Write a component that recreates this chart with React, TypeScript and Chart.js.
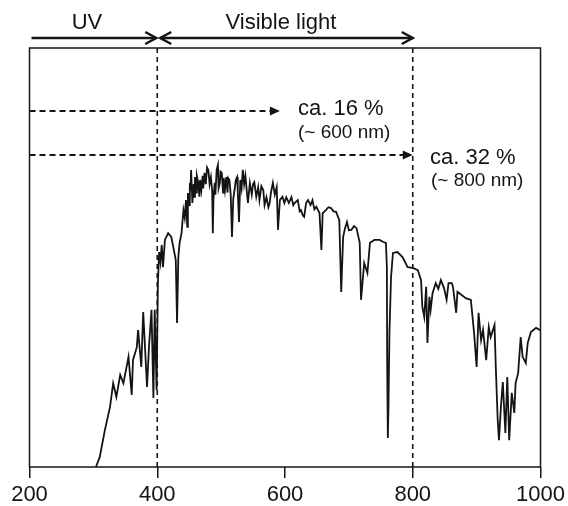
import React, { useEffect, useRef } from "react";
import { Chart, registerables } from "chart.js";

Chart.register(...registerables);

// Wavelength (nm) and relative irradiance (top of frame = 100)
const wavelengths = [
  304, 310, 318, 326, 329, 331, 336, 342, 347, 352, 355, 360, 362, 368, 370, 375, 378, 384, 387, 391,
  394, 396, 399, 401, 403, 405, 407, 409, 412, 417, 422, 426, 429, 431, 433, 435, 438,
  441, 443, 445, 447, 448, 450, 451, 452, 453, 455, 457, 458, 459, 461, 462, 464, 466, 467, 469, 471, 472, 474,
  476, 478, 480, 482, 484, 486, 487, 488, 490, 491, 493, 495, 496, 498, 499, 501, 503, 504, 506, 508, 510, 511,
  513, 515, 517, 519, 521, 523, 525, 526, 528, 530, 532, 534, 536, 538, 540, 542, 545, 548, 550, 552, 555, 558,
  560, 563, 566, 568, 571, 574, 576, 578, 581, 584, 587, 589, 592, 596, 599,
  602, 606, 610, 613, 615, 620, 623, 625, 628, 630, 633, 636, 640, 643, 646, 649, 654, 657, 659, 664, 668, 672,
  676, 680, 685, 688, 691, 694, 697, 700, 704, 708, 712, 717,
  719, 724, 729, 733, 740, 748, 754, 758, 759.5, 760, 761, 762, 763.5, 766, 769, 776, 784, 792, 800, 808,
  813, 815, 818, 821, 823, 826, 828, 831, 836, 840, 844, 849, 853, 856, 861, 863, 868, 870, 876, 883, 891,
  896, 900, 903, 907, 910, 915, 919, 922, 928, 930, 933, 935, 938, 941, 945, 948, 951, 955, 959, 961,
  965, 969, 972, 977, 980, 985, 993, 999, 1000,
];
const irradiance = [
  0, 2.4, 8.8, 14.3, 17.7, 20.0, 16.7, 22.0, 20.0, 23.9, 26.3, 17.2, 25.5, 28.6, 32.7, 23.9, 37.0, 19.1, 28.6, 37.5,
  16.5, 37.5, 18.4, 43.9, 51.3, 48.9, 53.0, 47.7, 54.2, 55.8, 54.9, 51.8, 49.4, 34.4, 50.1, 53.5, 55.8,
  61.3, 59.5, 63.7, 57.3, 65.4, 62.5, 67.8, 66.0, 70.9, 63.0, 67.5, 64.5, 69.2, 65.5, 69.5, 68.0, 64.5, 68.5, 66.1, 69.5, 66.5, 70.2,
  67.5, 71.5, 70.9, 67.5, 69.2, 66.0, 55.8, 64.0, 67.8, 65.0, 70.9, 72.1, 66.5, 67.8, 70.5, 70.2, 65.5, 69.0, 66.1, 69.2, 65.5, 69.0,
  68.5, 65.0, 54.9, 64.0, 66.1, 68.5, 69.2, 66.0, 58.5, 68.5, 66.5, 70.9, 67.5, 69.5, 66.1, 63.0, 67.8, 65.0, 67.5, 68.0, 64.5, 66.8,
  63.7, 67.0, 66.1, 62.5, 64.4, 62.0, 63.0, 65.5, 67.8, 65.0, 66.8, 56.6, 63.7, 64.5, 63.0,
  64.4, 63.0, 64.4, 62.5, 63.0, 63.7, 61.0, 61.3, 60.0, 59.7, 63.0, 63.7, 62.5, 63.7, 61.5, 62.1, 60.6, 51.8, 60.6, 61.3, 62.0, 61.8,
  61.0, 60.9, 58.9, 41.8, 54.9, 57.0, 58.5, 56.5, 56.6, 57.5, 57.0, 53.5,
  39.9, 48.7, 46.3, 53.5, 54.2, 54.2, 53.7, 53.5, 47.7, 23.9, 6.9, 14.3, 32.0, 45.3, 51.1, 51.3, 50.1, 47.7, 47.5, 47.0,
  44.6, 38.2, 35.8, 43.0, 29.6, 40.6, 37.5, 41.5, 43.9, 42.5, 44.6, 42.7, 39.9, 43.9, 43.9, 43.0, 36.8, 41.8, 41.1, 40.3, 39.9,
  32.0, 23.9, 36.8, 30.3, 32.7, 25.5, 33.4, 31.0, 33.9, 23.9, 11.2, 6.4, 14.3, 20.3, 8.1, 21.5, 6.4, 17.7, 12.9, 20.0,
  22.4, 31.0, 26.3, 24.8, 29.6, 32.2, 33.2, 32.7, 32.5,
];
const xTicks = [200, 400, 600, 800, 1000];

const FONT = "'Liberation Sans', Arial, Helvetica, sans-serif";
const INK = "#141414";

function arrowOpen(ctx: CanvasRenderingContext2D, x: number, y: number, dir: number) {
  ctx.beginPath();
  ctx.moveTo(x - dir * 11, y - 6);
  ctx.lineTo(x, y);
  ctx.lineTo(x - dir * 11, y + 6);
  ctx.stroke();
}

function arrowFilled(ctx: CanvasRenderingContext2D, x: number, y: number) {
  ctx.beginPath();
  ctx.moveTo(x, y);
  ctx.lineTo(x - 10, y - 4.5);
  ctx.lineTo(x - 10, y + 4.5);
  ctx.closePath();
  ctx.fill();
}

const annotPlugin = {
  id: "annot",
  afterDraw(chart: any) {
    const { ctx, chartArea: ca, scales } = chart;
    const px = (v: number) => scales.x.getPixelForValue(v);
    const top = ca.top;
    ctx.save();
    ctx.strokeStyle = INK;
    ctx.fillStyle = INK;
    // frame
    ctx.lineWidth = 1.5;
    ctx.setLineDash([]);
    ctx.strokeRect(ca.left, ca.top, ca.right - ca.left, ca.bottom - ca.top);
    // dashed verticals at 400 and 800 nm
    ctx.setLineDash([5, 4]);
    ctx.lineWidth = 1.6;
    for (const w of [400, 800]) {
      ctx.beginPath();
      ctx.moveTo(px(w), ca.top);
      ctx.lineTo(px(w), ca.bottom);
      ctx.stroke();
    }
    // dashed horizontal arrows
    ctx.lineWidth = 2;
    ctx.setLineDash([6, 4]);
    const y1 = top + 63;
    const y2 = top + 107;
    const tip1 = px(592);
    const tip2 = px(800);
    ctx.beginPath();
    ctx.moveTo(ca.left, y1);
    ctx.lineTo(tip1 - 8, y1);
    ctx.moveTo(ca.left, y2);
    ctx.lineTo(tip2 - 8, y2);
    ctx.stroke();
    ctx.setLineDash([]);
    arrowFilled(ctx, tip1, y1);
    arrowFilled(ctx, tip2, y2);
    // UV / visible arrows
    ctx.lineWidth = 2.5;
    const ya = top - 10;
    const uvEnd = px(400) - 1;
    const visStart = px(400) + 3;
    ctx.beginPath();
    ctx.moveTo(ca.left + 2, ya);
    ctx.lineTo(uvEnd, ya);
    ctx.moveTo(visStart, ya);
    ctx.lineTo(tip2, ya);
    ctx.stroke();
    arrowOpen(ctx, uvEnd, ya, 1);
    arrowOpen(ctx, visStart, ya, -1);
    arrowOpen(ctx, tip2, ya, 1);
    // texts
    ctx.textBaseline = "middle";
    ctx.textAlign = "center";
    ctx.font = `22px ${FONT}`;
    ctx.fillText("UV", 87, top - 25);
    ctx.fillText("Visible light", 281, top - 25);
    ctx.textAlign = "left";
    ctx.fillText("ca. 16 %", 298, top + 61);
    ctx.fillText("ca. 32 %", 430, top + 110);
    ctx.font = `19px ${FONT}`;
    ctx.fillText("(~ 600 nm)", 298, top + 85);
    ctx.fillText("(~ 800 nm)", 431, top + 133);
    ctx.restore();
  },
};

export default function App() {
  const ref = useRef<HTMLCanvasElement | null>(null);
  useEffect(() => {
    if (!ref.current) return;
    const data = wavelengths.map((w, i) => ({ x: w, y: irradiance[i] }));
    const chart = new Chart(ref.current, {
      type: "line",
      data: {
        datasets: [
          {
            data,
            borderColor: INK,
            borderWidth: 1.8,
            pointRadius: 0,
            tension: 0,
            fill: false,
          },
        ],
      },
      options: {
        animation: false,
        responsive: false,
        devicePixelRatio: 1,
        layout: { padding: { left: 29.5, right: 27.5, top: 48, bottom: 0 } },
        plugins: { legend: { display: false }, tooltip: { enabled: false } },
        scales: {
          x: {
            type: "linear",
            min: 200,
            max: 1000,
            afterBuildTicks: (s: any) => {
              s.ticks = xTicks.map((v) => ({ value: v }));
            },
            border: { display: false },
            grid: {
              display: true,
              drawOnChartArea: false,
              drawTicks: true,
              tickLength: 11,
              color: INK,
              lineWidth: 1.5,
            },
            ticks: {
              color: INK,
              padding: 3,
              maxRotation: 0,
              callback: (v: any) => String(v),
              font: { family: FONT, size: 22, lineHeight: 1.2727 },
            },
          },
          y: { display: false, min: 0, max: 100 },
        },
      },
      plugins: [annotPlugin],
    });
    return () => chart.destroy();
  }, []);
  return (
    <div
      style={{
        position: "absolute",
        left: 0,
        top: 0,
        width: 568,
        height: 506,
        overflow: "hidden",
        background: "#fff",
      }}
    >
      <canvas ref={ref} width={568} height={512} style={{ display: "block" }} />
    </div>
  );
}
